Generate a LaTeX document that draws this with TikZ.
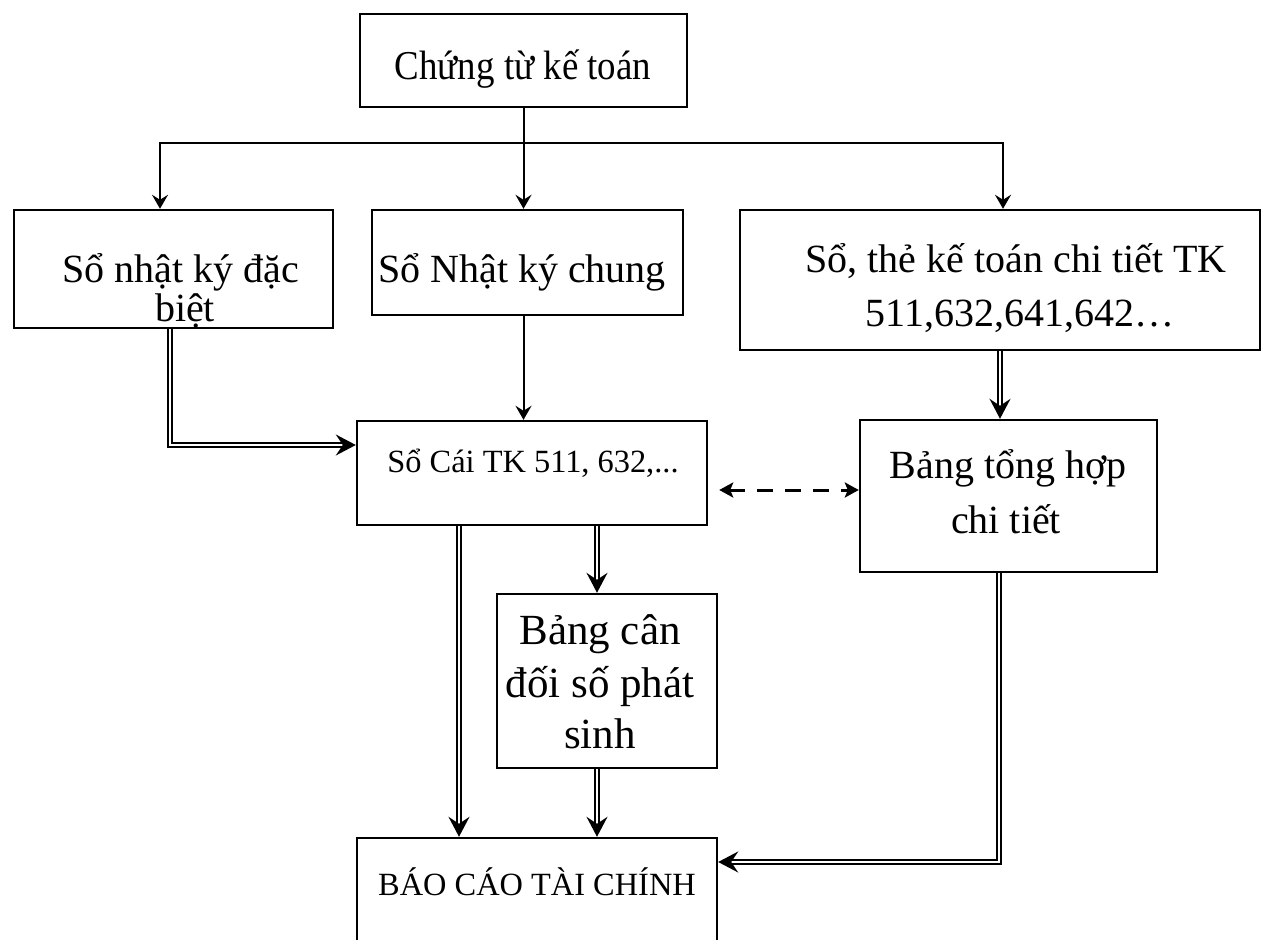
\documentclass[tikz,border=0pt]{standalone}
\usepackage{graphicx}
\usepackage{fontspec}
\setmainfont{Liberation Serif}
\usetikzlibrary{arrows.meta,fit}

\begin{document}
\begin{tikzpicture}[x=0.5pt,y=-0.5pt,
  box/.style={draw,line width=1.2pt,inner sep=0pt,rectangle},
  txt/.style={font=\fontsize{20pt}{24pt}\selectfont,inner sep=0pt,anchor=base},
  bigtxt/.style={font=\fontsize{21.5pt}{25pt}\selectfont,inner sep=0pt,anchor=base},
  toptxt/.style={font=\fontsize{20.5pt}{24pt}\selectfont,inner sep=0pt,anchor=base},
  smalltxt/.style={font=\fontsize{16.2pt}{19pt}\selectfont,inner sep=0pt,anchor=base},
  arr/.style={line width=1pt,-{Stealth[length=7pt,width=8pt,inset=2.5pt]}},
  darr/.style={double,line width=0.9pt,double distance=1.3pt,
    -{Stealth[length=10pt,width=10.5pt,inset=3.5pt]}},
  dasharr/.style={line width=1.5pt,dash pattern=on 8pt off 6pt,
    {Stealth[length=7pt,width=7.5pt,inset=1.5pt]}-{Stealth[length=7pt,width=7.5pt,inset=1.5pt]}}
]
\useasboundingbox (0,0) rectangle (1262,940);
\fill[white] (0,0) rectangle (1262,940);
\clip (0,0) rectangle (1262,940);

% boxes
\node[box,fit={(360,14) (687,107)}] (ct) {};
\node[box,fit={(14,210) (333,328)}] (nkdb) {};
\node[box,fit={(372,210) (683,315)}] (nkc) {};
\node[box,fit={(740,210) (1260,350)}] (st) {};
\node[box,fit={(357,421) (707,525)}] (sc) {};
\node[box,fit={(860,420) (1157,572)}] (btht) {};
\node[box,fit={(497,594) (717,768)}] (bcd) {};
\node[box,fit={(357,838) (717,980)}] (bc) {};

% box texts
\node[toptxt] (ct-t) at (523,80) {\scalebox{0.9}[1]{Chứng từ kế toán}};
\node[txt] (nkdb-t1) at (181,283) {Sổ nhật ký đặc};
\node[txt] (nkdb-t2) at (185,322) {biệt};
\node[txt] (nkc-t) at (522,283) {Sổ Nhật ký chung};
\node[txt] (st-t1) at (1016,273) {Sổ, thẻ kế toán chi tiết TK};
\node[txt] (st-t2) at (1020,327) {511,632,641,642…};
\node[smalltxt] (sc-t) at (533,473) {Sổ Cái TK 511, 632,...};
\node[txt] (btht-t1) at (1008,479) {Bảng tổng hợp};
\node[txt] (btht-t2) at (1006,533) {chi tiết};
\node[bigtxt] (bcd-t1) at (600,644) {Bảng cân};
\node[bigtxt] (bcd-t2) at (600,697) {đối số phát};
\node[bigtxt] (bcd-t3) at (600,748) {sinh};
\node[smalltxt] (bc-t) at (537,895) {BÁO CÁO TÀI CHÍNH};

% distribution from the source documents
\coordinate (split) at (523.5,143);
\draw[line width=1pt] (ct.south) -- (split);
\draw[arr] (split) -- (ct.south |- nkc.north);
\draw[arr] (split) -| ([xshift=-6.75pt]nkdb.north);
\draw[arr] (split) -| ([xshift=1.5pt]st.north);

% journals to ledger
\coordinate (nkdbOut) at ([xshift=-1.75pt]nkdb.south);
\draw[darr] (nkdbOut) |- ([yshift=14pt]sc.west);
\draw[arr] (ct.south |- nkc.south) -- (ct.south |- sc.north);

% detail books to summary
\draw[darr] (st.south) -- (st.south |- btht.north);

% reconciliation
\coordinate (dL) at ([shift={(5.5pt,-8.5pt)}]sc.east);
\draw[dasharr] (dL) -- (dL -| btht.west);

% ledger to trial balance and reports
\coordinate (sA) at ([xshift=-36.5pt]sc.south);
\coordinate (sB) at ([xshift=32.5pt]sc.south);
\draw[darr] (sA) -- (sA |- bc.north);
\draw[darr] (sB) -- (sB |- bcd.north);
\draw[darr] (sB |- bcd.south) -- (sB |- bc.north);

% summary to reports
\coordinate (tR) at ([xshift=-4.75pt]btht.south);
\draw[darr] (tR) |- ([yshift=23.5pt]bc.east);
\end{tikzpicture}
\end{document}
